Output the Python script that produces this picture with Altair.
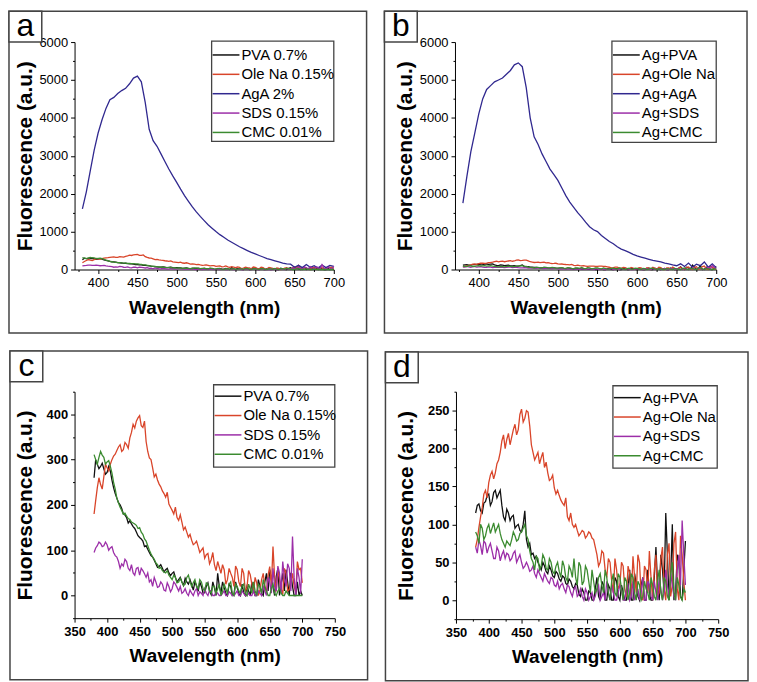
import altair as alt
import pandas as pd

FONT = "Liberation Sans"

# wavelength grids (nm)
WL = list(range(380, 701, 5))
WL_MID = [w + 2.5 for w in WL[:-1]]

# ---- panels a / c : surfactants alone ----
PVA = [260, 290, 285, 280, 272, 275, 238, 215, 200, 180,
       172, 165, 152, 140, 128, 120, 110, 95, 85, 70,
       64, 60, 57, 50, 49, 40, 35, 30, 38, 25,
       24, 30, 9, 20, 6, 28, 2, 17, 49, 6,
       17, 0, 20, 2, 17, 0, 6, 20, 0, 13,
       0, 20, 0, 49, 57, 20, 42, 0, 49, 57,
       0, 20, 0, 0, 0]
PVA_MID = [300, 280, 292, 268, 285, 255, 225, 205, 192, 178,
           160, 158, 148, 132, 125, 108, 102, 88, 78, 62,
           68, 52, 60, 44, 52, 30, 40, 22, 30, 35,
           12, 22, 30, 5, 20, 10, 30, 0, 20, 30,
           5, 25, 0, 30, 5, 25, 0, 10, 30, 0,
           35, 5, 30, 10, 35, 0, 60, 25, 10, 30,
           50, 0, 30, 10]
OLE = [180, 238, 245, 262, 282, 290, 308, 320, 333, 322,
       333, 348, 378, 385, 397, 371, 340, 304, 282, 268,
       246, 231, 217, 202, 188, 195, 166, 162, 151, 129,
       122, 115, 108, 100, 82, 93, 79, 68, 75, 49,
       57, 35, 49, 20, 57, 20, 49, 17, 46, 6,
       28, 13, 49, 6, 64, 108, 9, 35, 2, 49,
       13, 49, 6, 57, 28]
OLE_MID = [210, 260, 235, 290, 275, 300, 312, 328, 318, 338,
           325, 360, 370, 392, 375, 385, 318, 300, 262, 255,
           240, 225, 228, 195, 180, 172, 178, 145, 140, 135,
           112, 120, 95, 105, 90, 70, 95, 55, 62, 68,
           25, 60, 40, 65, 30, 60, 10, 55, 25, 40,
           0, 35, 20, 45, 20, 40, 55, 15, 60, 10,
           30, 20, 75, 60]
AGA = [1600, 2050, 2600, 3150, 3600, 3950, 4250, 4480, 4540, 4640,
       4720, 4780, 4900, 5050, 5100, 4950, 4400, 3700, 3400, 3250,
       3050, 2850, 2650, 2470, 2300, 2120, 1950, 1800, 1650, 1520,
       1400, 1290, 1180, 1090, 1000, 920, 850, 780, 720, 660,
       600, 550, 500, 450, 410, 370, 330, 290, 260, 230,
       200, 170, 150, 140, 60, 110, 50, 130, 60, 100,
       40, 120, 50, 110, 80]
SDS = [95, 110, 115, 110, 112, 105, 95, 85, 60, 65,
       75, 55, 50, 60, 45, 55, 40, 30, 20, 30,
       20, 25, 10, 20, 15, 25, 10, 5, 15, 0,
       5, 10, 0, 5, 15, 0, 10, 0, 5, 0,
       10, 0, 5, 0, 10, 0, 5, 0, 0, 10,
       0, 5, 20, 0, 30, 60, 10, 50, 75, 20,
       60, 130, 0, 40, 80]
SDS_MID = [105, 118, 108, 118, 100, 108, 88, 75, 70, 80,
           60, 68, 45, 62, 60, 48, 50, 35, 40, 18,
           30, 12, 28, 8, 30, 18, 20, 8, 5, 12,
           0, 15, 8, 0, 5, 12, 0, 8, 0, 5,
           0, 8, 0, 5, 0, 10, 0, 5, 0, 0,
           10, 0, 10, 40, 5, 20, 65, 5, 40, 70,
           10, 40, 60, 5]
CMC = [311, 290, 318, 305, 295, 285, 250, 215, 195, 180,
       175, 168, 160, 155, 150, 135, 120, 100, 85, 72,
       60, 55, 50, 45, 35, 40, 30, 30, 25, 45,
       20, 35, 15, 30, 10, 25, 5, 20, 15, 0,
       25, 5, 30, 0, 20, 5, 25, 0, 15, 30,
       0, 20, 35, 10, 0, 25, 0, 15, 0, 10,
       0, 0, 0, 0, 0]
CMC_MID = [300, 305, 310, 290, 298, 270, 235, 205, 188, 182,
           170, 162, 158, 148, 140, 125, 110, 92, 80, 68,
           62, 52, 55, 40, 45, 28, 38, 22, 40, 30,
           28, 20, 35, 15, 28, 10, 20, 5, 25, 10,
           15, 25, 5, 25, 10, 20, 5, 25, 5, 10,
           25, 5, 20, 0, 15, 5, 10, 5, 0, 5,
           0, 0, 0, 0]

# ---- panels b / d : Ag + surfactant ----
AG_PVA = [115, 127, 115, 130, 140, 130, 145, 140, 125, 105,
          115, 110, 95, 100, 90, 118, 70, 60, 55, 50,
          40, 45, 35, 40, 30, 35, 25, 30, 20, 25,
          15, 20, 5, 10, 0, 10, 0, 30, 0, 20,
          0, 15, 0, 25, 0, 10, 0, 40, 0, 20,
          0, 30, 0, 10, 0, 70, 0, 40, 115, 0,
          100, 10, 50, 0, 78]
AG_PVA_MID = [125, 118, 128, 138, 125, 142, 135, 145, 110, 120,
              105, 112, 98, 92, 100, 80, 75, 62, 58, 45,
              50, 38, 45, 32, 38, 28, 32, 22, 28, 18,
              22, 8, 15, 0, 12, 0, 15, 5, 25, 0,
              20, 0, 30, 5, 20, 0, 15, 0, 35, 5,
              20, 0, 40, 0, 30, 20, 60, 10, 60, 30,
              0, 60, 5, 40]
AG_OLE = [70, 96, 122, 145, 155, 170, 168, 185, 210, 200,
          220, 215, 232, 225, 252, 240, 248, 205, 185, 195,
          188, 175, 168, 160, 148, 145, 132, 125, 110, 115,
          96, 92, 88, 90, 85, 88, 80, 60, 50, 62,
          30, 50, 10, 40, 20, 45, 5, 35, 58, 10,
          50, 0, 40, 65, 0, 60, 10, 70, 0, 75,
          20, 90, 0, 60, 0]
AG_OLE_MID = [80, 110, 140, 135, 165, 160, 180, 195, 218, 212,
              205, 225, 218, 245, 235, 250, 230, 195, 190, 180,
              195, 182, 158, 165, 140, 138, 128, 135, 105, 100,
              100, 85, 92, 82, 90, 82, 70, 45, 65, 40,
              55, 25, 55, 15, 50, 15, 45, 5, 30, 60,
              5, 45, 10, 30, 40, 5, 55, 15, 60, 5,
              75, 15, 85, 25]
AG_AGA = [1750, 2450, 3100, 3600, 4100, 4500, 4750, 4850, 4950, 5000,
          5050, 5150, 5250, 5400, 5450, 5350, 4800, 4000, 3500, 3300,
          3050, 2850, 2650, 2500, 2350, 2150, 1950, 1780, 1640, 1500,
          1380, 1250, 1130, 1050, 1000, 900, 820, 740, 680, 600,
          540, 500, 450, 400, 360, 330, 300, 270, 240, 220,
          200, 170, 150, 120, 100, 150, 80, 170, 60, 140,
          100, 200, 60, 150, 50]
AG_SDS = [70, 80, 60, 75, 70, 65, 55, 65, 60, 55,
          60, 55, 65, 55, 50, 45, 45, 40, 35, 40,
          30, 35, 25, 30, 20, 25, 20, 15, 20, 10,
          15, 5, 15, 0, 10, 5, 0, 15, 0, 10,
          25, 0, 10, 0, 20, 0, 15, 0, 25, 5,
          0, 30, 0, 20, 0, 10, 30, 0, 40, 5,
          20, 0, 60, 105, 20]
AG_SDS_MID = [62, 72, 78, 62, 75, 55, 70, 52, 65, 62,
              52, 62, 50, 60, 42, 50, 38, 45, 30, 35,
              25, 30, 22, 28, 18, 15, 22, 10, 18, 5,
              18, 8, 5, 15, 0, 10, 5, 20, 5, 0,
              10, 20, 0, 10, 15, 0, 20, 5, 0, 15,
              10, 0, 25, 5, 25, 0, 15, 10, 20, 35,
              5, 40, 20, 60]
AG_CMC = [90, 75, 95, 85, 100, 95, 90, 100, 80, 70,
          75, 80, 85, 80, 90, 100, 80, 55, 40, 55,
          45, 55, 40, 50, 35, 50, 30, 45, 25, 40,
          55, 20, 45, 25, 40, 10, 25, 15, 35, 10,
          30, 0, 35, 5, 30, 0, 25, 10, 30, 0,
          20, 5, 15, 0, 20, 0, 40, 0, 25, 0,
          50, 0, 20, 0, 10]
AG_CMC_MID = [85, 100, 80, 95, 88, 102, 95, 88, 75, 78,
              72, 90, 78, 88, 95, 85, 65, 50, 58, 40,
              60, 42, 55, 38, 45, 38, 52, 30, 45, 30,
              30, 50, 20, 45, 25, 40, 10, 30, 20, 40,
              10, 25, 10, 35, 15, 30, 0, 35, 10, 25,
              0, 25, 10, 30, 5, 25, 10, 30, 5, 35,
              10, 30, 5, 15]

NAMES_A = ["PVA 0.7%", "Ole Na 0.15%", "AgA 2%", "SDS 0.15%", "CMC 0.01%"]
NAMES_B = ["Ag+PVA", "Ag+Ole Na", "Ag+AgA", "Ag+SDS", "Ag+CMC"]
COLORS = ["#111111", "#d9452a", "#30288f", "#9c2ea8", "#3b8b30"]

SERIES_A = [(PVA, PVA_MID), (OLE, OLE_MID), (AGA, None), (SDS, SDS_MID), (CMC, CMC_MID)]
SERIES_B = [(AG_PVA, AG_PVA_MID), (AG_OLE, AG_OLE_MID), (AG_AGA, None),
            (AG_SDS, AG_SDS_MID), (AG_CMC, AG_CMC_MID)]


def long_df(names, series, keep):
    rows = []
    for i, (n, (main, mid)) in enumerate(zip(names, series)):
        if i not in keep:
            continue
        pts = list(zip(WL, main))
        if mid is not None:
            pts += list(zip(WL_MID, mid))
        pts.sort()
        for w, v in pts:
            rows.append({"wl": w, "val": v, "series": n})
    return pd.DataFrame(rows)


def panel(df, names, colors, xdom, xvals, xmaj, ydom, yvals, ymaj, w, h,
          bold, border, leg, letter):
    lw = "bold" if bold else "normal"
    xaxis = alt.Axis(
        values=xvals,
        labelExpr=f"datum.value % {xmaj} === 0 ? datum.label : ''",
        tickSize={"condition": {"test": f"datum.value % {xmaj} === 0", "value": 4}, "value": 2},
        format="d", labelOverlap=False, labelFlush=False, grid=False,
        domainColor="black", tickColor="black", labelColor="black",
        labelFont=FONT, labelFontSize=13, labelFontWeight=lw, labelPadding=3,
        title="Wavelength (nm)", titleFont=FONT, titleFontSize=19,
        titleFontWeight="bold", titleColor="black", titlePadding=9,
        minExtent=20, maxExtent=20,
    )
    yaxis = alt.Axis(
        values=yvals,
        labelExpr=f"datum.value % {ymaj} === 0 ? datum.label : ''",
        tickSize={"condition": {"test": f"datum.value % {ymaj} === 0", "value": 4}, "value": 2},
        format="d", labelOverlap=False, labelFlush=False, grid=False,
        domainColor="black", tickColor="black", labelColor="black",
        labelFont=FONT, labelFontSize=13, labelFontWeight=lw, labelPadding=3,
        title="Fluorescence (a.u.)", titleFont=FONT, titleFontSize=21,
        titleFontWeight="bold", titleColor="black", titlePadding=7.5,
        minExtent=32, maxExtent=32,
    )
    cscale = alt.Scale(domain=names, range=colors)
    lines = alt.Chart(df).mark_line(strokeWidth=1.3).encode(
        x=alt.X("wl:Q", scale=alt.Scale(domain=xdom, nice=False, zero=False), axis=xaxis),
        y=alt.Y("val:Q", scale=alt.Scale(domain=ydom, nice=False, zero=False), axis=yaxis),
        color=alt.Color("series:N", scale=cscale, legend=None),
    )
    deco = pd.DataFrame({"k": [0]})
    bx1, by1, bx2, by2 = border
    frame = alt.Chart(deco).mark_rect(fill="transparent", stroke="#444444", strokeWidth=1.5).encode(
        x=alt.value(bx1), x2=alt.value(bx2), y=alt.value(by1), y2=alt.value(by2))
    tagbox = alt.Chart(deco).mark_rect(fill="white", stroke="#444444", strokeWidth=1.5).encode(
        x=alt.value(bx1), x2=alt.value(bx1 + 33), y=alt.value(by1), y2=alt.value(by1 + 31))
    tag = alt.Chart(deco).mark_text(text=letter, font=FONT, fontSize=32, color="black",
                                    align="center", baseline="middle").encode(
        x=alt.value(bx1 + 16.5), y=alt.value(by1 + 15))

    # legend box with entries
    lx1, ly1, lx2, ly2, r0, pitch = leg
    n = len(names)
    leg_df = pd.DataFrame({"series": names, "idx": list(range(n))})
    yleg = alt.Y("idx:Q", scale=alt.Scale(domain=[0, n - 1], range=[r0, r0 + pitch * (n - 1)]),
                 axis=None)
    legbox = alt.Chart(deco).mark_rect(fill="white", stroke="#444444", strokeWidth=1.3).encode(
        x=alt.value(lx1), x2=alt.value(lx2), y=alt.value(ly1), y2=alt.value(ly2))
    legrule = alt.Chart(leg_df).mark_rule(strokeWidth=1.5).encode(
        x=alt.value(lx1 + 1), x2=alt.value(lx1 + 28), y=yleg,
        color=alt.Color("series:N", scale=cscale, legend=None))
    legtext = alt.Chart(leg_df).mark_text(align="left", baseline="middle", font=FONT,
                                          fontSize=15, color="black").encode(
        x=alt.value(lx1 + 30), y=yleg, text="series:N")
    return alt.layer(lines, frame, tagbox, tag, legbox, legrule, legtext).resolve_scale(
        y="independent").properties(width=w, height=h)


XV_AB = list(range(375, 701, 25))
YV_AB = list(range(0, 6001, 500))
XV_CD = list(range(350, 751, 25))
YV_C = list(range(-50, 451, 50))
YV_D = list(range(-25, 276, 25))

pa = panel(long_df(NAMES_A, SERIES_A, [0, 1, 2, 3, 4]), NAMES_A, COLORS,
           [370, 700], XV_AB, 50, [0, 6000], YV_AB, 1000, 261, 229, False,
           (-66, -31, 294, 293), (138, -1, 261, 100, 13, 19.5), "a")
pb = panel(long_df(NAMES_B, SERIES_B, [0, 1, 2, 3, 4]), NAMES_B, COLORS,
           [370, 700], XV_AB, 50, [0, 6000], YV_AB, 1000, 263, 229, False,
           (-71, -31, 294, 293), (158, -1, 263, 101, 13, 19.5), "b")
names_c = [NAMES_A[i] for i in [0, 1, 3, 4]]
names_d = [NAMES_B[i] for i in [0, 1, 3, 4]]
cols_cd = [COLORS[i] for i in [0, 1, 3, 4]]
pc = panel(long_df(NAMES_A, SERIES_A, [0, 1, 3, 4]), names_c, cols_cd,
           [350, 750], XV_CD, 50, [-50, 450], YV_C, 100, 262, 228, True,
           (-65, -41, 295, 290), (140, -7, 262, 76, 4.5, 19.5), "c")
pd_ = panel(long_df(NAMES_B, SERIES_B, [0, 1, 3, 4]), names_d, cols_cd,
            [350, 750], XV_CD, 50, [-25, 275], YV_D, 50, 264, 229, True,
            (-71, -40, 294, 291), (158, -6, 263, 77, 6, 19.5), "d")

row1 = alt.hconcat(pa, pb, spacing=16).resolve_scale(color="independent")
row2 = alt.hconcat(pc, pd_, spacing=16).resolve_scale(color="independent")

chart = alt.vconcat(row1, row2, spacing=16).resolve_scale(
    color="independent"
).properties(
    padding=0, background="white"
).configure_view(
    strokeWidth=0
)

chart.save("out.html", embed_options={"renderer": "svg", "actions": False})
